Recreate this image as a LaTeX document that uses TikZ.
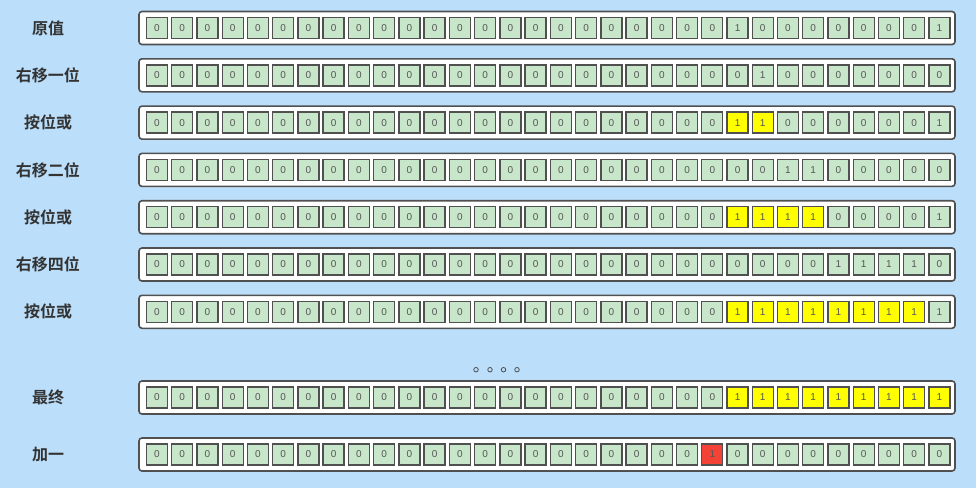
\documentclass[tikz,border=0pt]{standalone}
\usepackage{fontspec}
\setmainfont{Liberation Sans}
\newfontfamily\cjkb[BoldFont={Noto Sans CJK SC Bold}]{Noto Sans CJK SC}
\definecolor{bgblue}{HTML}{BBDEFA}
\definecolor{cellgreen}{HTML}{C8E6C9}
\definecolor{cellyellow}{HTML}{FFFF00}
\definecolor{cellred}{HTML}{F44336}
\definecolor{edgegray}{HTML}{505050}
\definecolor{labelgray}{HTML}{333333}
\definecolor{digitgray}{HTML}{555555}
\tikzset{
  rowlabel/.style={font=\cjkb\bfseries\fontsize{16}{18}\selectfont, text=labelgray, inner sep=0pt},
  rowframe/.style={draw=edgegray, line width=1.6pt, fill=white, rounded corners=3pt,
                   minimum width=816pt, minimum height=33pt, inner sep=0pt},
  bitcell/.style={draw=edgegray, line width=1.4pt, minimum size=21pt, inner sep=0pt,
                  font=\fontsize{10}{12}\selectfont, text=digitgray},
  cz/.style={fill=cellgreen, node contents=0},
  co/.style={fill=cellgreen, node contents=1},
  cy/.style={fill=cellyellow, node contents=1},
  cr/.style={fill=cellred, node contents=1},
  dotmark/.style={circle, draw=edgegray, line width=0.8pt, fill=bgblue, minimum size=4.5pt, inner sep=0pt},
}
\newcommand\mybitrow[4]{%
  \node[rowlabel] (#1lab) at (48,#2) {#3};
  \node[rowframe] (#1frame) at (547,#2) {};
  \foreach \c [count=\i from 0] in {#4} {
    \node[bitcell, name=#1cell\i, at={({157+25.24*\i},#2)}, c\c];
  }
}
\begin{document}
\begin{tikzpicture}[x=1pt,y=-1pt]
\useasboundingbox[fill=bgblue] (0,0) rectangle (976,488);
\mybitrow{ra}{28}{原值}{z,z,z,z,z,z,z,z,z,z,z,z,z,z,z,z,z,z,z,z,z,z,z,o,z,z,z,z,z,z,z,o}
\mybitrow{rb}{75.3}{右移一位}{z,z,z,z,z,z,z,z,z,z,z,z,z,z,z,z,z,z,z,z,z,z,z,z,o,z,z,z,z,z,z,z}
\mybitrow{rc}{122.6}{按位或}{z,z,z,z,z,z,z,z,z,z,z,z,z,z,z,z,z,z,z,z,z,z,z,y,y,z,z,z,z,z,z,o}
\mybitrow{rd}{169.9}{右移二位}{z,z,z,z,z,z,z,z,z,z,z,z,z,z,z,z,z,z,z,z,z,z,z,z,z,o,o,z,z,z,z,z}
\mybitrow{re}{217.2}{按位或}{z,z,z,z,z,z,z,z,z,z,z,z,z,z,z,z,z,z,z,z,z,z,z,y,y,y,y,z,z,z,z,o}
\mybitrow{rf}{264.5}{右移四位}{z,z,z,z,z,z,z,z,z,z,z,z,z,z,z,z,z,z,z,z,z,z,z,z,z,z,z,o,o,o,o,z}
\mybitrow{rg}{311.8}{按位或}{z,z,z,z,z,z,z,z,z,z,z,z,z,z,z,z,z,z,z,z,z,z,z,y,y,y,y,y,y,y,y,o}
\mybitrow{rh}{397.5}{最终}{z,z,z,z,z,z,z,z,z,z,z,z,z,z,z,z,z,z,z,z,z,z,z,y,y,y,y,y,y,y,y,y}
\mybitrow{ri}{454.5}{加一}{z,z,z,z,z,z,z,z,z,z,z,z,z,z,z,z,z,z,z,z,z,z,r,z,z,z,z,z,z,z,z,z}
\node[dotmark] (dota) at (476,369.7) {};
\node[dotmark] (dotb) at (490,369.7) {};
\node[dotmark] (dotc) at (503.5,369.7) {};
\node[dotmark] (dotd) at (517,369.7) {};
\end{tikzpicture}
\end{document}
